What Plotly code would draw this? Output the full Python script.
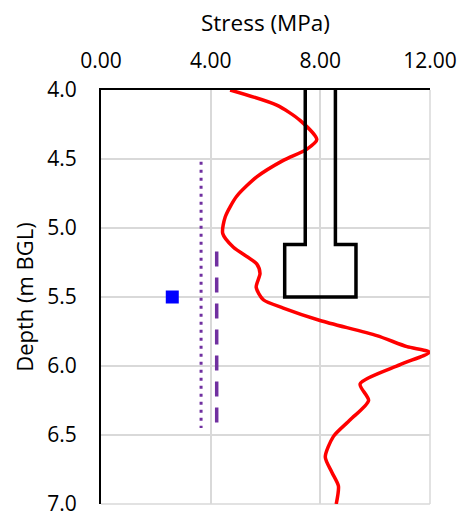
import plotly.graph_objects as go

# Measured stress profile (red)
stress_x = [4.71, 6.41, 7.26, 7.87, 7.5, 6.65, 5.68, 4.95, 4.53, 4.44, 4.83, 5.68, 5.80, 5.66,
            5.92, 6.65, 7.99, 10.06, 11.16, 11.98, 10.91, 9.45, 9.76, 9.09, 8.48, 8.18, 8.42, 8.66, 8.58]
stress_depth = [4.0, 4.11, 4.22, 4.36, 4.43, 4.51, 4.63, 4.77, 4.92, 5.04, 5.14, 5.26, 5.33, 5.43,
                5.52, 5.58, 5.67, 5.78, 5.86, 5.90, 5.99, 6.13, 6.25, 6.39, 6.51, 6.66, 6.77, 6.87, 7.0]

# Pile outline (black)
pile_x = [7.45, 7.45, 6.7, 6.7, 9.3, 9.3, 8.55, 8.55]
pile_depth = [4.0, 5.12, 5.12, 5.5, 5.5, 5.12, 5.12, 4.0]

# Dotted purple line
dot_x = [3.65, 3.65]
dot_depth = [4.52, 6.45]

# Dashed purple line
dash_x = [4.22, 4.22]
dash_depth = [5.17, 6.49]

# Blue point
pt_x = [2.6]
pt_depth = [5.5]

x_ticks = [0, 4, 8, 12]
y_ticks = [4.0, 4.5, 5.0, 5.5, 6.0, 6.5, 7.0]

fig = go.Figure()
fig.add_trace(go.Scatter(x=dot_x, y=dot_depth, mode="lines",
                         line=dict(color="#7030A0", width=3, dash="3px,5px")))
fig.add_trace(go.Scatter(x=dash_x, y=dash_depth, mode="lines",
                         line=dict(color="#7030A0", width=3.5, dash="15px,11px")))
fig.add_trace(go.Scatter(x=pt_x, y=pt_depth, mode="markers",
                         marker=dict(symbol="square", size=13, color="#0000FF")))
fig.add_trace(go.Scatter(x=stress_x, y=stress_depth, mode="lines",
                         line=dict(color="#FF0000", width=3.5, shape="spline", smoothing=0.7)))
fig.add_trace(go.Scatter(x=pile_x, y=pile_depth, mode="lines",
                         line=dict(color="#000000", width=3.5)))

grid = "#D9D9D9"
font = "Open Sans"
fig.update_layout(
    width=463, height=515,
    margin=dict(l=101, r=33, t=90, b=11, autoexpand=False),
    paper_bgcolor="white", plot_bgcolor="white",
    showlegend=False,
    font=dict(family=font, size=21, color="#000000"),
    xaxis=dict(side="top", range=[0, 12], tickvals=x_ticks,
               ticktext=[f"{v:.2f}" for v in x_ticks],
               showgrid=True, gridcolor=grid, gridwidth=1.5,
               showline=True, linecolor="#000000", linewidth=2,
               zeroline=False, ticks="", ticklabelstandoff=12, automargin=False,
               ticklabeloverflow="allow",
               title=dict(text="Stress (MPa)", font=dict(size=22.5), standoff=8)),
    yaxis=dict(range=[7.0, 4.0], tickvals=y_ticks,
               ticktext=[f"{v:.1f}" for v in y_ticks],
               showgrid=True, gridcolor=grid, gridwidth=1.5,
               showline=True, linecolor="#000000", linewidth=2,
               zeroline=False, ticks="", ticklabelstandoff=18, automargin=False,
               ticklabeloverflow="allow",
               title=dict(text="Depth (m BGL)", font=dict(size=22), standoff=8)),
    shapes=[
        dict(type="line", xref="x domain", yref="y domain", x0=1, x1=1, y0=0, y1=1,
             line=dict(color=grid, width=1.5), layer="below"),
        dict(type="line", xref="x domain", yref="y domain", x0=0, x1=1, y0=0, y1=0,
             line=dict(color=grid, width=1.5), layer="below"),
    ],
)

fig.write_html("out.html", config={"displayModeBar": False},
               post_script="document.body.style.margin='0';")
